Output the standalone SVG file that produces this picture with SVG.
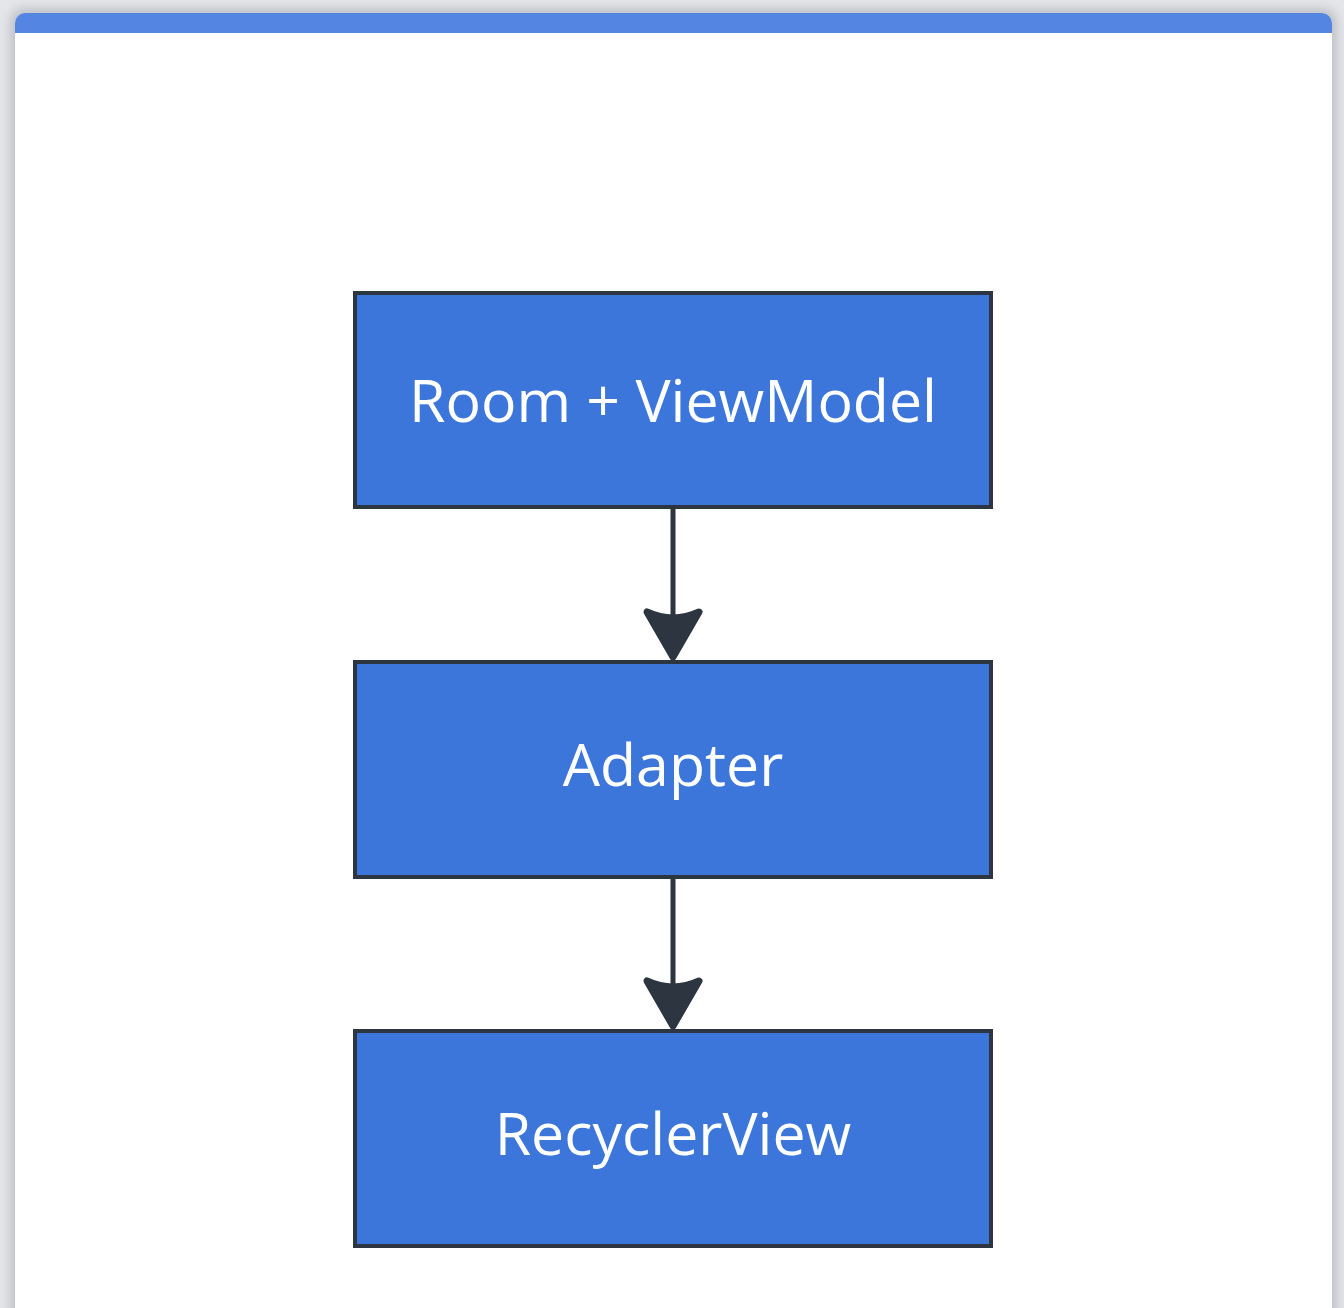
<svg xmlns="http://www.w3.org/2000/svg" width="1344" height="1308" viewBox="0 0 1344 1308">
<defs>
<style>
.node rect{fill:#3c76db;stroke:#2d3540;stroke-width:4}
.node text{font-family:"Open Sans","Noto Sans","Liberation Sans",sans-serif;font-size:59px;font-weight:500;fill:#ffffff;text-anchor:middle}
.edge line{stroke:#2d3540;stroke-width:5}
.edge path{fill:#2d3540;stroke:#2d3540;stroke-width:7;stroke-linejoin:round}
</style>
<filter id="sh" x="-5%" y="-5%" width="110%" height="110%">
<feGaussianBlur stdDeviation="6"/>
</filter>
<clipPath id="cardclip"><rect x="15" y="13" width="1317" height="1320" rx="10"/></clipPath>
</defs>
<rect x="0" y="0" width="1344" height="1308" fill="#e4e6e9"/>
<rect x="11" y="9" width="1325" height="1320" rx="12" fill="#b9bcc1" filter="url(#sh)"/>
<g id="card" clip-path="url(#cardclip)">
<rect x="15" y="13" width="1317" height="1320" fill="#ffffff"/>
<rect x="15" y="13" width="1317" height="20" fill="#5585e3"/>
</g>
<g id="connectors" class="edge">
<line x1="673" y1="507" x2="673" y2="625"/>
<path d="M647,612 L673,657 L699,612 Q673,624 647,612 Z"/>
<line x1="673" y1="877" x2="673" y2="994"/>
<path d="M647,981 L673,1026 L699,981 Q673,993 647,981 Z"/>
</g>
<g id="node-room" class="node">
<rect x="355" y="293" width="636" height="214"/>
<text x="673" y="422">Room + ViewModel</text>
</g>
<g id="node-adapter" class="node">
<rect x="355" y="662" width="636" height="215"/>
<text x="673" y="786">Adapter</text>
</g>
<g id="node-recyclerview" class="node">
<rect x="355" y="1031" width="636" height="215"/>
<text x="673" y="1155">RecyclerView</text>
</g>
</svg>
